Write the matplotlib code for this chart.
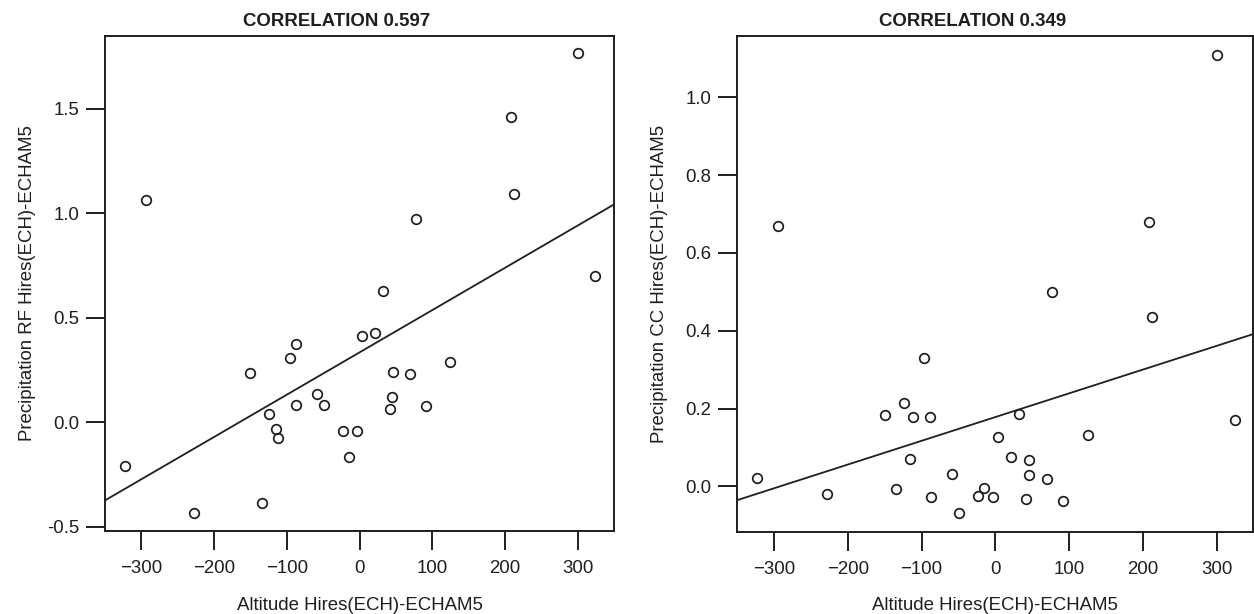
"""Altitude difference vs precipitation difference, two scatter panels with fitted line"""
import numpy as np
import matplotlib
matplotlib.use("Agg")
import matplotlib.pyplot as plt
from matplotlib.ticker import FuncFormatter

plt.rcParams['font.family'] = ['Liberation Sans', 'DejaVu Sans']

# Altitude Hires(ECH)-ECHAM5, same stations in both panels
altitude = [300, 208, 212, -294, 77, 324, 32, 3, 21, -88,
            -96, -150, 46, 70, 125, -59, -49, -87, 45, 42,
            91, -124, -115, -112, -23, -3, -15, -323, -134, -228]

# Precipitation RF Hires(ECH)-ECHAM5
precip_rf = [1.765, 1.462, 1.092, 1.063, 0.975, 0.702, 0.628, 0.412, 0.425, 0.374,
             0.309, 0.235, 0.243, 0.233, 0.290, 0.134, 0.081, 0.085, 0.120, 0.062,
             0.077, 0.041, -0.032, -0.077, -0.043, -0.041, -0.167, -0.208, -0.386, -0.435]

# Precipitation CC Hires(ECH)-ECHAM5
precip_cc = [1.109, 0.679, 0.435, 0.670, 0.499, 0.170, 0.186, 0.127, 0.075, 0.179,
             0.331, 0.183, 0.068, 0.018, 0.132, 0.031, -0.068, -0.028, 0.030, -0.032,
             -0.039, 0.215, 0.069, 0.179, -0.025, -0.027, -0.005, 0.021, -0.008, -0.019]

titles = ["CORRELATION 0.597", "CORRELATION 0.349"]
ylabels = ["Precipitation RF Hires(ECH)-ECHAM5", "Precipitation CC Hires(ECH)-ECHAM5"]
xlabel = "Altitude Hires(ECH)-ECHAM5"
yticks = [[-0.5, 0.0, 0.5, 1.0, 1.5], [0.0, 0.2, 0.4, 0.6, 0.8, 1.0]]
xticks = [-300, -200, -100, 0, 100, 200, 300]

xlim = (-349.5, 349.5)
ylims = [(-0.5215, 1.850), (-0.1167, 1.1576)]

ink = '#1e1e1e'
fs = 13.4

fig = plt.figure(figsize=(12.54, 6.14), dpi=100)
axes = [fig.add_axes([0.0840, 0.1347, 0.4054, 0.8072]),
        fig.add_axes([0.5880, 0.1340, 0.4115, 0.8074])]

for i, (ax, y) in enumerate(zip(axes, [precip_rf, precip_cc])):
    ax.plot(altitude, y, 'o', mfc='none', mec=ink, ms=6.9, mew=1.25)

    # least squares line across the whole panel
    coef = np.polyfit(altitude, y, 1)
    xs = np.array(xlim)
    ax.plot(xs, np.polyval(coef, xs), color=ink, lw=1.3)

    ax.set_xlim(xlim)
    ax.set_ylim(ylims[i])
    ax.set_xticks(xticks)
    ax.set_yticks(yticks[i])
    ax.yaxis.set_major_formatter(FuncFormatter(lambda v, p: f"{v:.1f}"))

    for s in ax.spines.values():
        s.set_linewidth(1.4)
        s.set_color(ink)
    ax.tick_params(axis='both', direction='out', length=13.9, width=1.4,
                   color=ink, labelcolor=ink, labelsize=fs)
    ax.tick_params(axis='x', pad=7)
    ax.tick_params(axis='y', pad=5)

    ax.set_xlabel(xlabel, fontsize=fs, color=ink)
    ax.set_ylabel(ylabels[i], fontsize=fs, color=ink)
    ax.xaxis.set_label_coords(0.5, -0.1316)
    ax.yaxis.set_label_coords(-69 / (ax.get_position().width * 1254), 0.5)

    ax.set_title(titles[i], fontsize=fs, fontweight='bold', color=ink,
                 x=0.5 - 22.7 / (ax.get_position().width * 1254), pad=7)

fig.savefig("out.png", dpi=100)
